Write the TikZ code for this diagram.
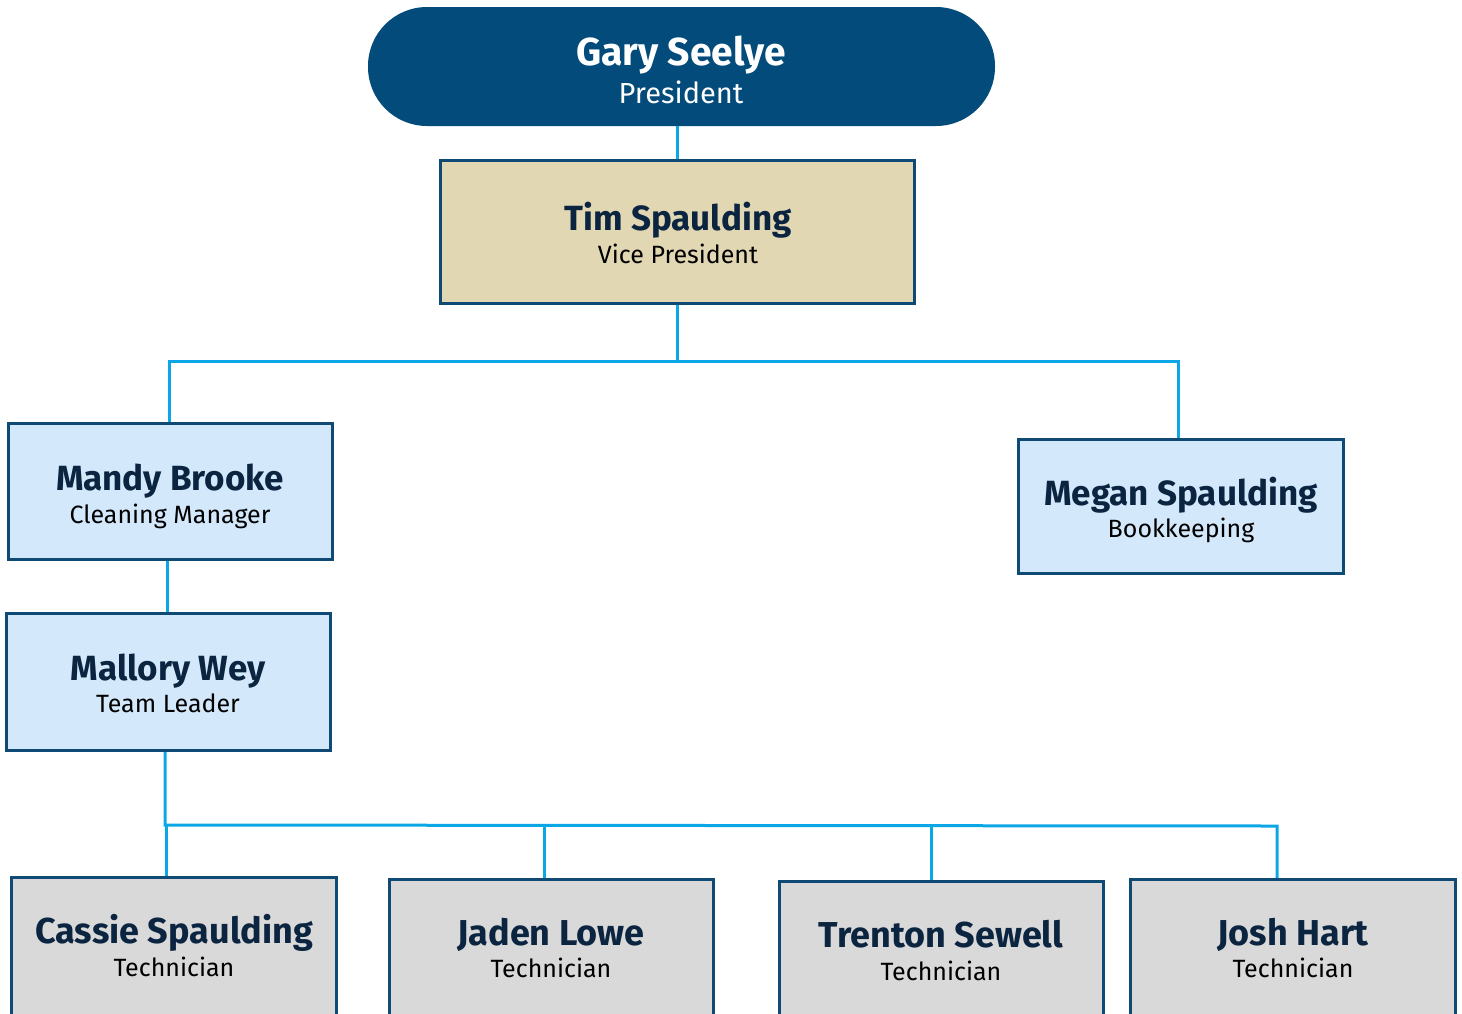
\documentclass[tikz,border=0pt]{standalone}
\usepackage{fontspec}
\setmainfont{Fira Sans}
\definecolor{navy}{HTML}{034B7A}
\definecolor{edge}{HTML}{0E4A73}
\definecolor{wire}{HTML}{0AA6E6}
\definecolor{tan}{HTML}{E1D7B3}
\definecolor{pale}{HTML}{D3E8FB}
\definecolor{grey}{HTML}{D9D9D9}
\definecolor{ink}{HTML}{0B2440}
\tikzset{
  card/.style={draw=edge, line width=2pt, rectangle, inner sep=0pt},
  conn/.style={draw=wire, line width=3pt},
  who/.style={anchor=base, inner sep=0pt, text=ink, font=\fontsize{35}{40}\selectfont\bfseries},
  role/.style={anchor=base, inner sep=0pt, text=black, font=\fontsize{25}{28}\selectfont},
  whon/.style={anchor=base, inner sep=0pt, text=ink, font=\fontsize{36}{40}\selectfont\bfseries},
  rolen/.style={anchor=base, inner sep=0pt, text=black, font=\fontsize{25}{28}\selectfont},
}
\begin{document}
\begin{tikzpicture}[x=1pt,y=-1pt]
\path[use as bounding box] (0,0) rectangle (1462,1013);
\clip (0,0) rectangle (1462,1013);

% President
\node[fill=navy, rounded corners=59pt, minimum width=627pt, minimum height=119pt, inner sep=0pt] (gary) at (681.5,66.5) {};
\node[anchor=base, inner sep=0pt, text=white, font=\fontsize{39}{42}\selectfont\bfseries] (gary-n) at (681,65) {Gary Seelye};
\node[anchor=base, inner sep=0pt, text=white, font=\fontsize{29}{32}\selectfont] (gary-r) at (681,103) {President};

% Vice president
\node[card, fill=tan, minimum width=473pt, minimum height=142pt] (tim) at (677.5,232) {};
\node[who] (tim-n) at (678,230) {Tim Spaulding};
\node[role] (tim-r) at (678,263) {Vice President};

% Managers
\node[card, fill=pale, minimum width=323pt, minimum height=135pt] (mandy) at (170.5,491.5) {};
\node[who] (mandy-n) at (170,490) {Mandy Brooke};
\node[role] (mandy-r) at (170,523) {Cleaning Manager};

\node[card, fill=pale, minimum width=324pt, minimum height=133pt] (megan) at (1181,506.5) {};
\node[who] (megan-n) at (1181,505) {Megan Spaulding};
\node[role] (megan-r) at (1181,537) {Bookkeeping};

\node[card, fill=pale, minimum width=323pt, minimum height=136pt] (mallory) at (168.5,682) {};
\node[who] (mallory-n) at (168,680) {Mallory Wey};
\node[role] (mallory-r) at (168,712) {Team Leader};

% Technicians (boxes run past the lower edge)
\node[card, fill=grey, minimum width=324pt, minimum height=150pt] (cassie) at (174,953) {};
\node[whon] (cassie-n) at (174,943) {Cassie Spaulding};
\node[rolen] (cassie-r) at (174,976) {Technician};

\node[card, fill=grey, minimum width=323pt, minimum height=150pt] (jaden) at (551.5,955) {};
\node[whon] (jaden-n) at (551,945) {Jaden Lowe};
\node[rolen] (jaden-r) at (551,977) {Technician};

\node[card, fill=grey, minimum width=323pt, minimum height=150pt] (trenton) at (941.5,957) {};
\node[whon] (trenton-n) at (941,947) {Trenton Sewell};
\node[rolen] (trenton-r) at (941,980) {Technician};

\node[card, fill=grey, minimum width=324pt, minimum height=150pt] (josh) at (1293,955) {};
\node[whon] (josh-n) at (1293,945) {Josh Hart};
\node[rolen] (josh-r) at (1293,977) {Technician};

% Connector routing points
\coordinate (busL) at (169,361);
\coordinate (busR) at (1178,361);
\coordinate (mgr) at (167,0);
\coordinate (busA) at (165,825);
\coordinate (busB) at (1277,826);
\coordinate (tc) at (166,0);
\coordinate (tj) at (544,0);
\coordinate (tt) at (931,0);

\draw[conn] (gary.south -| tim.north) -- (tim.north);
\draw[conn] (tim.south) -- (tim.south |- busL);
\draw[conn] (mandy.north -| busL) -- (busL) -- (busR) -- (megan.north -| busR);
\draw[conn] (mandy.south -| mgr) -- (mallory.north -| mgr);
\draw[conn] (mallory.south -| busA) -- (busA) -- (busB) -- (josh.north -| busB);
\draw[conn] (busA -| tc) -- (cassie.north -| tc);
\draw[conn] (busA -| tj) -- (jaden.north -| tj);
\draw[conn] (busA -| tt) -- (trenton.north -| tt);

% Box outlines drawn over the connector ends
\foreach \b in {tim,mandy,megan,mallory,cassie,jaden,trenton,josh}{
  \draw[draw=edge, line width=2pt] (\b.north west) rectangle (\b.south east);
}
\end{tikzpicture}
\end{document}
